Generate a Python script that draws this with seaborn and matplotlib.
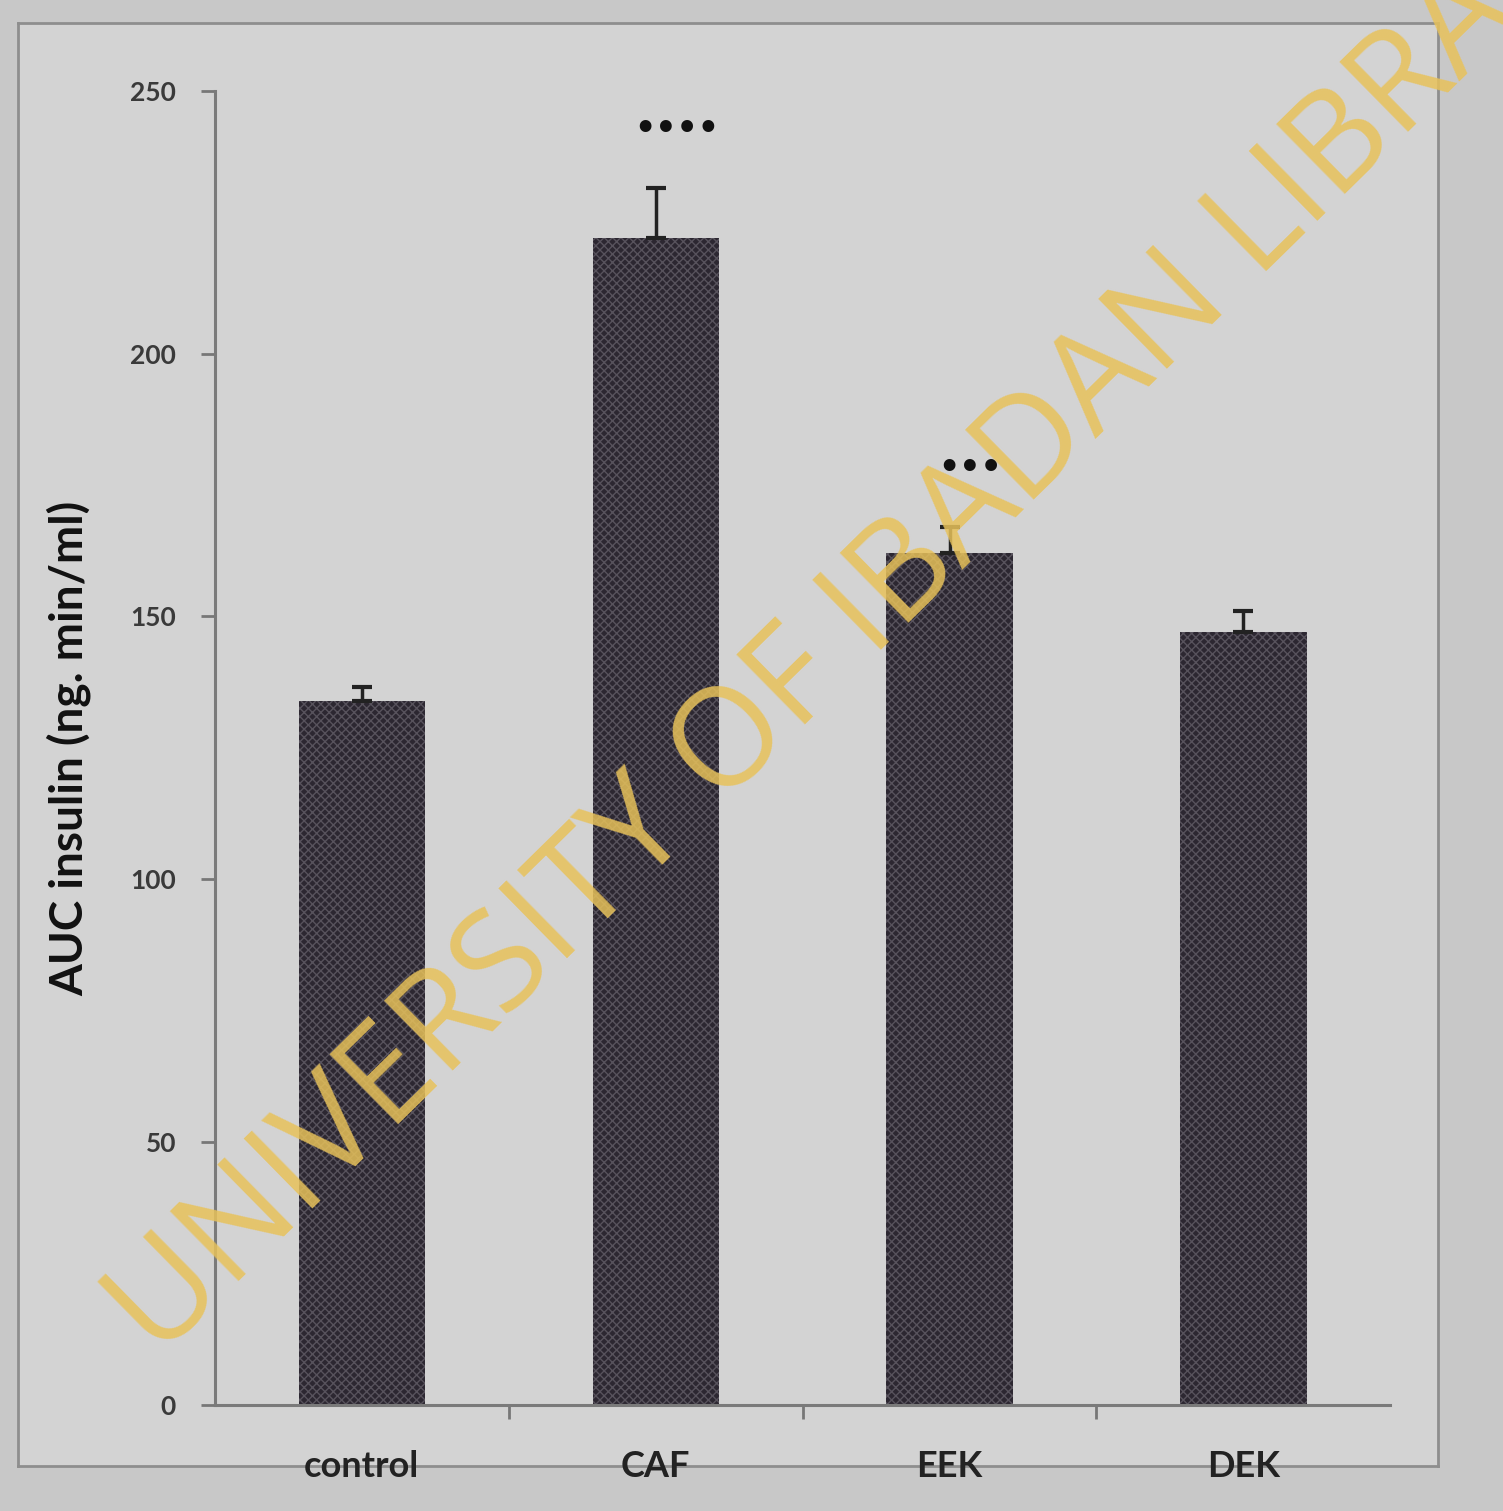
import matplotlib
matplotlib.use("Agg")
import matplotlib.pyplot as plt
from matplotlib.ticker import FixedLocator
import seaborn as sns
import pandas as pd

# Insulin AUC per treatment group (mean and SEM)
groups = ["control", "CAF", "EEK", "DEK"]
auc_mean = [134, 222, 162, 147]
auc_sem = [2.5, 9.5, 5, 4]
signif = ["", "••••", "•••", ""]
y_ticks = [0, 50, 100, 150, 200, 250]

df = pd.DataFrame({"group": groups, "auc": auc_mean})

sns.set_theme(style="white")
plt.rcParams["font.family"] = ["Lato", "DejaVu Sans"]

fig = plt.figure(figsize=(15.03, 15.11), dpi=100, facecolor="#c8c8c8")
# inner chart area panel
panel = fig.add_axes([0.012, 0.03, 0.945, 0.955])
panel.set_facecolor("#d3d3d3")
panel.set_xticks([]); panel.set_yticks([])
for s in panel.spines.values():
    s.set_color("#8e8e8e"); s.set_linewidth(2)

ax = fig.add_axes([0.143, 0.070, 0.782, 0.870])
ax.set_facecolor("none")

sns.barplot(data=df, x="group", y="auc", ax=ax, width=0.43,
            color="#2c2731", errorbar=None, saturation=1)
for p in ax.patches:
    p.set_hatch("xxxx")
    p.set_edgecolor("#57525c")
    p.set_linewidth(0)

xpos = list(range(len(groups)))
ax.errorbar(xpos, auc_mean, yerr=[[0] * len(groups), auc_sem], fmt="none",
            ecolor="#222222", elinewidth=2.5, capsize=7, capthick=3)

for x, m, e, s in zip(xpos, auc_mean, auc_sem, signif):
    if s:
        ax.text(x + 0.07, m + e + 8, s, ha="center", va="bottom",
                fontsize=24, fontweight="bold", color="#111111",
                family=["DejaVu Sans"])

ax.set_ylim(0, 250)
ax.set_xlim(-0.5, 3.5)
ax.set_yticks(y_ticks)
ax.set_yticklabels([str(v) for v in y_ticks], fontsize=19,
                   fontweight="bold", color="#3a3a3a")
ax.set_xticks(xpos)
ax.set_xticklabels(groups, fontsize=26, fontweight="bold", color="#222222")
ax.xaxis.set_minor_locator(FixedLocator([0.5, 1.5, 2.5]))
ax.tick_params(axis="x", which="major", length=0, pad=32)
ax.tick_params(axis="x", which="minor", length=10, width=2, color="#777777",
               direction="out", bottom=True)
ax.tick_params(axis="y", which="major", length=10, width=2, color="#777777",
               direction="out", left=True, pad=18)
ax.set_xlabel("")
ax.set_ylabel("AUC insulin (ng. min/ml)", fontsize=33, fontweight="bold",
              color="#111111", labelpad=28)

sns.despine(ax=ax)
for side in ("left", "bottom"):
    ax.spines[side].set_color("#7a7a7a")
    ax.spines[side].set_linewidth(2.2)

# library watermark, running off the upper right corner
fig.text(0.105, 0.100, "UNIVERSITY OF IBADAN LIBRARY", rotation=44.5,
         rotation_mode="anchor", ha="left", va="baseline",
         fontsize=99, color="#e8c25a", alpha=0.85, family=["Open Sans"],
         zorder=10)

fig.savefig("out.png", dpi=100, facecolor=fig.get_facecolor())
